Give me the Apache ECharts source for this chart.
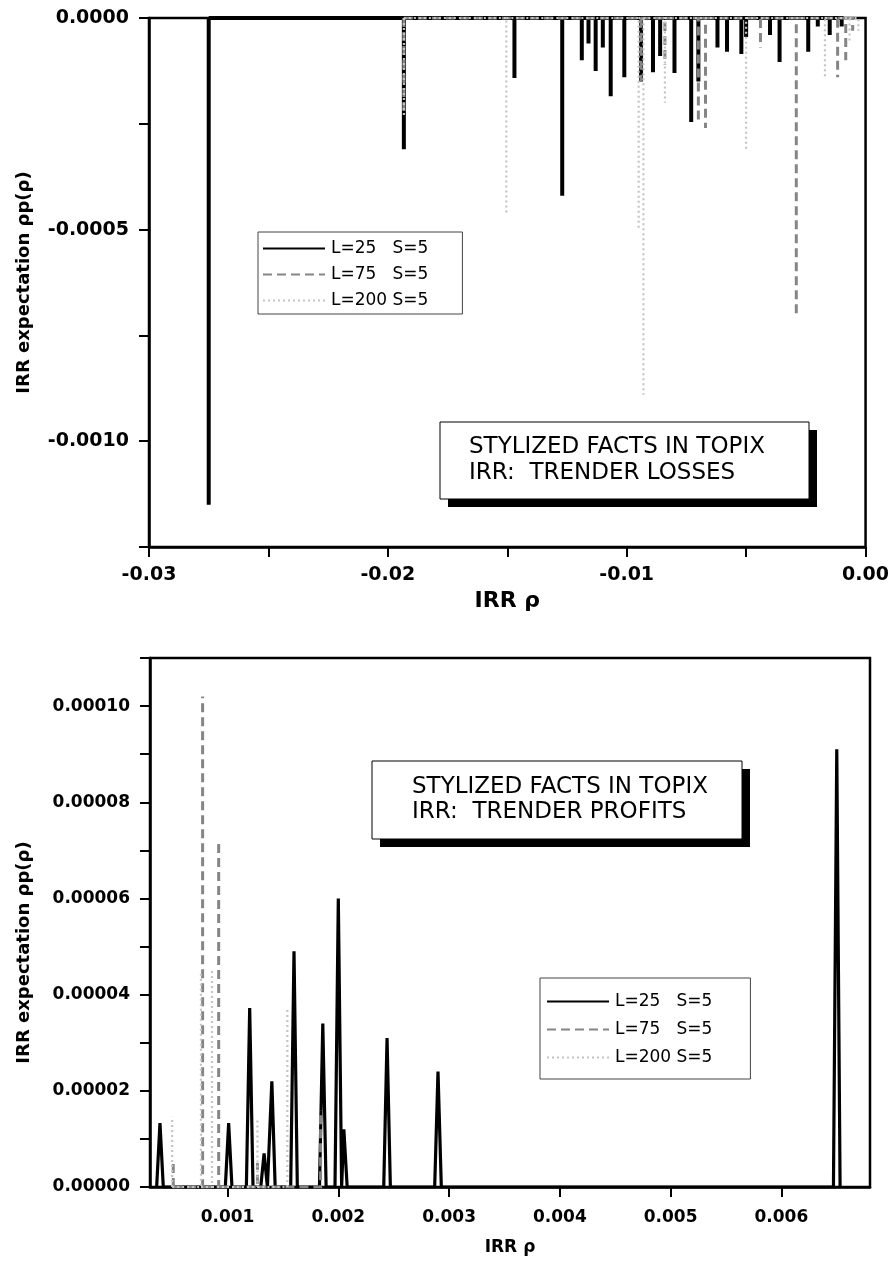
<!DOCTYPE html>
<html>
<head>
<meta charset="utf-8">
<script src="https://cdn.jsdelivr.net/npm/echarts@6.0.0/dist/echarts.min.js"></script>
<style>
html,body{margin:0;padding:0;background:#fff;}
#chart{width:892px;height:1264px;}
</style>
</head>
<body>
<div id="chart"></div>
<script>
// ---- data (IRR rho, peak value) ----
const seriesNames = ['L=25   S=5', 'L=75   S=5', 'L=200 S=5'];

// Top panel: trender losses
const lossL25 = [
  [-0.0275, -0.00115], [-0.01933, -0.00031], [-0.0147, -0.000142], [-0.0127, -0.00042],
  [-0.01188, -0.0001], [-0.0116, -0.00006], [-0.0113, -0.000125], [-0.0110, -0.00007],
  [-0.01067, -0.000185], [-0.0101, -0.00014], [-0.0094, -0.00015], [-0.0089, -0.000128],
  [-0.0086, -0.00009], [-0.0080, -0.00013], [-0.0073, -0.000246], [-0.0070, -0.00015],
  [-0.0062, -0.00007], [-0.0058, -0.00008], [-0.0052, -0.000085], [-0.0050, -0.000045],
  [-0.0040, -0.00004], [-0.0036, -0.000104], [-0.0024, -0.00008], [-0.0020, -0.00002],
  [-0.0015, -0.00004], [-0.0010, -0.00002]
];
const lossL75 = [
  [-0.01933, -0.00023], [-0.0094, -0.00015], [-0.0084, -0.00011], [-0.0070, -0.00025],
  [-0.0067, -0.00026], [-0.0044, -0.00007], [-0.0029, -0.000705], [-0.00117, -0.00014],
  [-0.00083, -0.0001], [-0.00054, -0.00003]
];
const lossL200 = [
  [-0.01933, -0.00023], [-0.01504, -0.000466], [-0.0095, -0.0005], [-0.0093, -0.00089],
  [-0.0084, -0.0002], [-0.0050, -0.00031], [-0.0017, -0.00014], [-0.00067, -0.00006],
  [-0.0003, -0.00003]
];

// Bottom panel: trender profits
const profitL25 = [
  [0.00039, 0.0000133], [0.00101, 0.0000133], [0.00120, 0.0000372], [0.00133, 0.000007],
  [0.00140, 0.000022], [0.00160, 0.000049], [0.00186, 0.000034], [0.00200, 0.000060],
  [0.00205, 0.000012], [0.00244, 0.000031], [0.00290, 0.000024], [0.00650, 0.000091]
];
const profitL75 = [
  [0.00051, 0.000005], [0.000775, 0.000102], [0.00092, 0.000072], [0.00127, 0.000005],
  [0.00184, 0.000016]
];
const profitL200 = [
  [0.00050, 0.0000146], [0.00076, 0.000045], [0.00086, 0.000045], [0.00127, 0.000014],
  [0.00154, 0.0000374]
];

// tick label values
const lossXLabels = [-0.03, -0.02, -0.01, 0.0];
const lossYLabels = [0, -0.0005, -0.001];
const profitXLabels = [0.001, 0.002, 0.003, 0.004, 0.005, 0.006];
const profitYLabels = [0, 0.00002, 0.00004, 0.00006, 0.00008, 0.00010];

// ---- helpers ----
// triangular spikes (solid lines)
function triSpikes(peaks, halfWidth) {
  const out = [];
  peaks.slice().sort((a, b) => a[0] - b[0]).forEach(p => {
    out.push([p[0] - halfWidth, 0]);
    out.push([p[0], p[1]]);
    out.push([p[0] + halfWidth, 0]);
  });
  return out;
}
// baseline along zero plus a single vertical stroke per peak (keeps dash pattern clean)
function sticks(peaks) {
  const out = [];
  peaks.slice().sort((a, b) => a[0] - b[0]).forEach(p => {
    out.push([p[0], 0]);
    out.push([p[0], p[1]]);
    out.push([p[0], '-']);
    out.push([p[0], 0]);
  });
  return out;
}
function near(v, list) { return list.some(t => Math.abs(t - v) < 1e-10); }

const styles = [
  { color: '#000000', width: 4, type: 'solid' },
  { color: '#858585', width: 3, type: [9, 5] },
  { color: '#c4c4c4', width: 2.2, type: [2, 3] }
];

function mkSeries(idx, data, styleIdx, width) {
  const s = styles[styleIdx];
  return {
    name: seriesNames[styleIdx], type: 'line', xAxisIndex: idx, yAxisIndex: idx,
    data: data, showSymbol: false, symbol: 'none', animation: false, connectNulls: false,
    lineStyle: { color: s.color, width: width || s.width, type: s.type, join: 'miter' },
    itemStyle: { color: s.color }, z: 2 + styleIdx, clip: true
  };
}

const axisLineStyle = { onZero: false, lineStyle: { color: '#000', width: 2.5 } };
const tickLabelFont = { fontFamily: 'DejaVu Sans', fontWeight: 'bold', color: '#000' };
const nameFont = { fontFamily: 'DejaVu Sans', fontWeight: 'bold', color: '#000' };

const legendCommon = {
  orient: 'vertical', data: seriesNames, itemWidth: 62, itemHeight: 14,
  borderColor: '#444', borderWidth: 1, backgroundColor: '#fff',
  itemStyle: { opacity: 0 },
  textStyle: { fontFamily: 'DejaVu Sans', fontSize: 17, color: '#000', padding: [0, 0, 0, 1] }
};

const option = {
  backgroundColor: '#fff',
  animation: false,
  grid: [
    { left: 149, top: 18, width: 720, height: 529, show: true, borderColor: '#000', borderWidth: 2.5, backgroundColor: 'transparent' },
    { left: 150, top: 658, width: 720, height: 529, show: true, borderColor: '#000', borderWidth: 2.5, backgroundColor: 'transparent' }
  ],
  xAxis: [
    {
      gridIndex: 0, type: 'value', min: -0.03, max: 0, interval: 0.005,
      axisLine: axisLineStyle,
      axisTick: { show: true, inside: false, length: 10, lineStyle: { color: '#000', width: 2 } },
      axisLabel: Object.assign({ fontSize: 19, margin: 19,
        formatter: v => near(v, lossXLabels) ? (Math.abs(v) < 1e-12 ? 0 : v).toFixed(2) : '' }, tickLabelFont),
      splitLine: { show: false },
      name: 'IRR \u03C1', nameLocation: 'middle', nameGap: 43,
      nameTextStyle: Object.assign({ fontSize: 22 }, nameFont)
    },
    {
      gridIndex: 1, type: 'value', min: 0.0003, max: 0.0068,
      axisLine: axisLineStyle,
      axisTick: { show: true, length: 10, customValues: profitXLabels, lineStyle: { color: '#000', width: 2 } },
      axisLabel: Object.assign({ fontSize: 17, margin: 22, customValues: profitXLabels,
        formatter: v => v.toFixed(3) }, tickLabelFont),
      splitLine: { show: false },
      name: 'IRR \u03C1', nameLocation: 'middle', nameGap: 52,
      nameTextStyle: Object.assign({ fontSize: 17 }, nameFont)
    }
  ],
  yAxis: [
    {
      gridIndex: 0, type: 'value', min: -0.00125, max: 0, interval: 0.00025,
      axisLine: axisLineStyle,
      axisTick: { show: true, length: 10, lineStyle: { color: '#000', width: 2 } },
      axisLabel: Object.assign({ fontSize: 19, margin: 20,
        formatter: v => near(v, lossYLabels) ? (Math.abs(v) < 1e-12 ? 0 : v).toFixed(4) : '' }, tickLabelFont),
      splitLine: { show: false },
      name: 'IRR expectation \u03C1p(\u03C1)', nameLocation: 'middle', nameGap: 116,
      nameTextStyle: Object.assign({ fontSize: 18 }, nameFont)
    },
    {
      gridIndex: 1, type: 'value', min: 0, max: 0.00011, interval: 0.00001,
      axisLine: axisLineStyle,
      axisTick: { show: true, length: 10, lineStyle: { color: '#000', width: 2 } },
      axisLabel: Object.assign({ fontSize: 17, margin: 20,
        formatter: v => near(v, profitYLabels) ? v.toFixed(5) : '' }, tickLabelFont),
      splitLine: { show: false },
      name: 'IRR expectation \u03C1p(\u03C1)', nameLocation: 'middle', nameGap: 117,
      nameTextStyle: Object.assign({ fontSize: 18, padding: [0, 60, 0, 0] }, nameFont)
    }
  ],
  legend: [
    Object.assign({}, legendCommon, { left: 258, top: 232, itemGap: 9, padding: [8, 34, 5, 4] }),
    Object.assign({}, legendCommon, { left: 540, top: 978, itemGap: 11, padding: [15, 38, 13, 6] })
  ],
  graphic: [
    { type: 'rect', shape: { x: 448, y: 430, width: 369, height: 77 }, style: { fill: '#000' }, z: 100 },
    { type: 'rect', shape: { x: 440, y: 422, width: 369, height: 77 }, style: { fill: '#fff', stroke: '#000', lineWidth: 1 }, z: 101 },
    { type: 'text', x: 469, y: 447, style: { text: 'STYLIZED FACTS IN TOPIX', font: '23px "DejaVu Sans"', fill: '#000', verticalAlign: 'middle' }, z: 102 },
    { type: 'text', x: 469, y: 473, style: { text: 'IRR:  TRENDER LOSSES', font: '23px "DejaVu Sans"', fill: '#000', verticalAlign: 'middle' }, z: 102 },
    { type: 'rect', shape: { x: 380, y: 769, width: 370, height: 78 }, style: { fill: '#000' }, z: 100 },
    { type: 'rect', shape: { x: 372, y: 761, width: 370, height: 78 }, style: { fill: '#fff', stroke: '#000', lineWidth: 1 }, z: 101 },
    { type: 'text', x: 412, y: 787, style: { text: 'STYLIZED FACTS IN TOPIX', font: '23px "DejaVu Sans"', fill: '#000', verticalAlign: 'middle' }, z: 102 },
    { type: 'text', x: 412, y: 812, style: { text: 'IRR:  TRENDER PROFITS', font: '23px "DejaVu Sans"', fill: '#000', verticalAlign: 'middle' }, z: 102 }
  ],
  series: [
    mkSeries(0, sticks(lossL25), 0, 4),
    mkSeries(0, sticks(lossL75), 1),
    mkSeries(0, sticks(lossL200), 2),
    mkSeries(1, triSpikes(profitL25, 0.00003), 0, 3.2),
    mkSeries(1, sticks(profitL75), 1),
    mkSeries(1, sticks(profitL200), 2)
  ]
};

const chart = echarts.init(document.getElementById('chart'), null, { renderer: 'canvas' });
chart.setOption(option);
</script>
</body>
</html>
